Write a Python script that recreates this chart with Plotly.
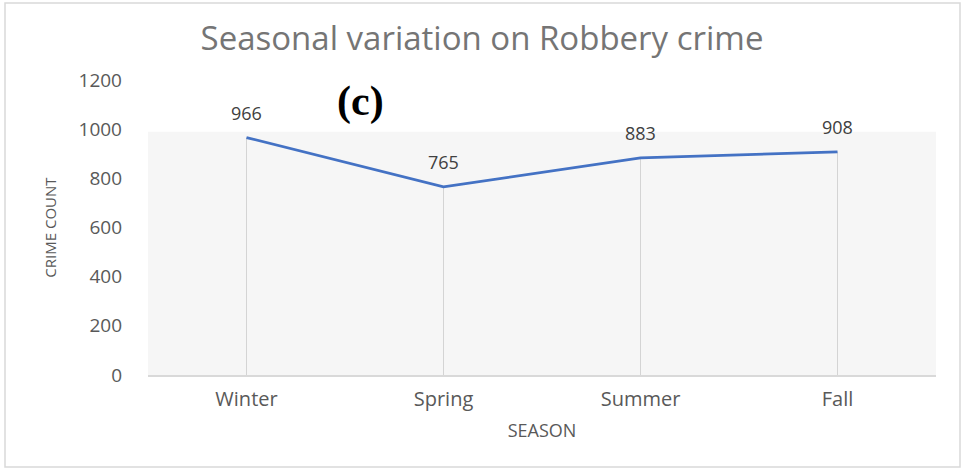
import plotly.graph_objects as go

seasons = ["Winter", "Spring", "Summer", "Fall"]
crime_counts = [966, 765, 883, 908]
y_ticks = [0, 200, 400, 600, 800, 1000, 1200]

L, R, T, B = 148, 28, 80, 95
W, H = 964, 470
pw, ph = W - L - R, H - T - B


def px(x):
    return (x - L) / pw


def py(y):
    return (H - B - y) / ph


fig = go.Figure()

# drop lines from each point to the axis
for s, v in zip(seasons, crime_counts):
    fig.add_trace(go.Scatter(x=[s, s], y=[0, v], mode="lines",
                             line=dict(color="#d4d4d4", width=1),
                             hoverinfo="skip", showlegend=False))

fig.add_trace(go.Scatter(
    x=seasons, y=crime_counts, mode="lines",
    line=dict(color="#4472C4", width=2.8), showlegend=False,
))

for s, v in zip(seasons, crime_counts):
    fig.add_annotation(x=s, y=v, text=str(v), showarrow=False, yshift=25,
                       font=dict(family="Open Sans", size=18, color="#404040"))

# light textured background in plot area
fig.add_shape(type="rect", xref="x domain", yref="y", x0=0, x1=1, y0=0, y1=990,
              fillcolor="#f6f6f6", line=dict(width=0), layer="below")

# chart border
fig.add_shape(type="rect", xref="paper", yref="paper", x0=px(5), x1=px(960),
              y0=py(467), y1=py(3), line=dict(color="#d9d9d9", width=1.5),
              fillcolor="rgba(0,0,0,0)", layer="below")

fig.update_layout(
    width=W, height=H,
    margin=dict(l=L, r=R, t=T, b=B),
    paper_bgcolor="white", plot_bgcolor="white",
    title=dict(text="Seasonal variation on Robbery crime", x=0.5, xanchor="center",
               y=1 - 38 / H, yanchor="middle",
               font=dict(family="Open Sans", size=33, color="#757575")),
    font=dict(family="Open Sans", color="#595959"),
    xaxis=dict(type="category", range=[-0.5, 3.5], showgrid=False, showline=True,
               linecolor="#d9d9d9", linewidth=1.5, ticks="", ticklabelstandoff=5,
               tickfont=dict(size=20, color="#595959"),
               title=dict(text="SEASON", font=dict(size=18, color="#595959"), standoff=14)),
    yaxis=dict(range=[0, 1200], tickvals=y_ticks, showgrid=False, zeroline=False,
               showline=False, ticks="", ticklabelstandoff=25,
               tickfont=dict(size=19, color="#595959"),
               title=dict(text="CRIME COUNT", font=dict(size=15, color="#595959"), standoff=18)),
)

fig.add_annotation(text="<b>(c)</b>", x=px(360), y=py(101), xref="paper", yref="paper",
                   xanchor="center", yanchor="middle", showarrow=False,
                   font=dict(family="Liberation Serif", size=42, color="black"))

fig.write_html("out.html", config={"displayModeBar": False},
               post_script="document.body.style.margin='0';")
